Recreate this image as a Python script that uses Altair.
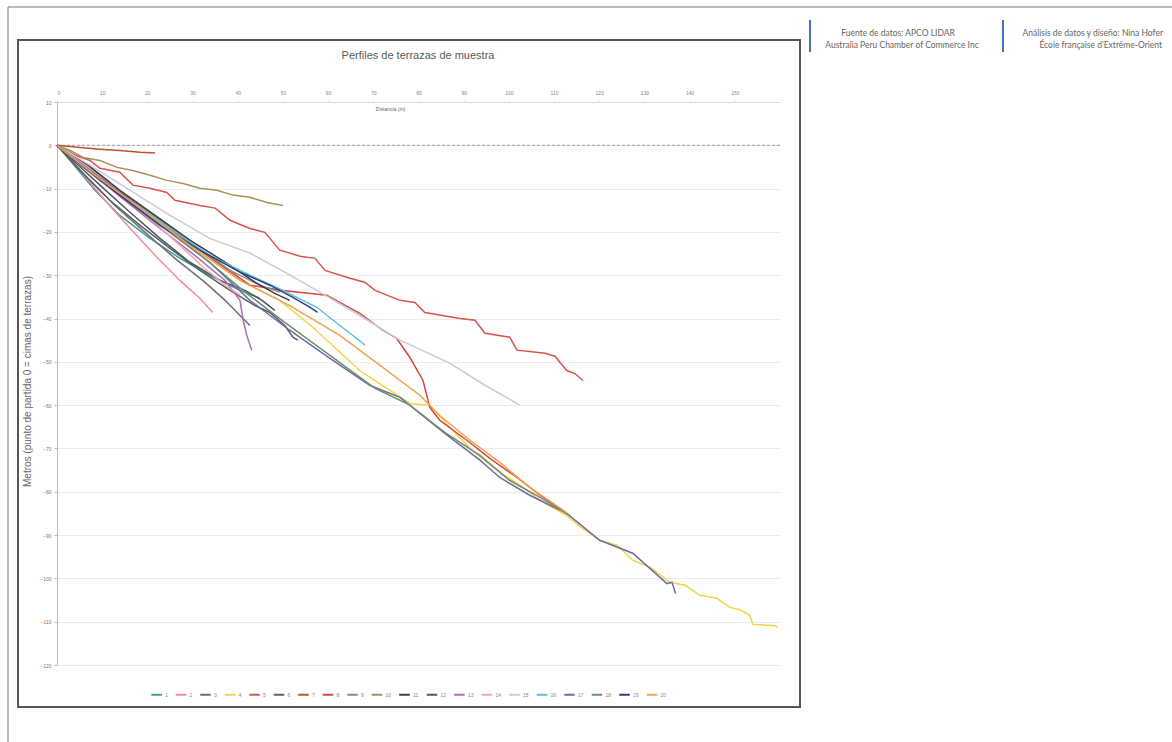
import altair as alt
import pandas as pd

# ---------------- data ----------------
SERIES = [str(i) for i in range(1, 21)]
COLORS = ["#3fa08c", "#f08c9c", "#6e7080", "#f2d544", "#d9534f",
          "#5b5f5f", "#c0502a", "#d2483a", "#8a8a8a", "#a8905a",
          "#3c3c46", "#4a5668", "#b070b0", "#f4a6b6", "#c9cbd6",
          "#5bc0d8", "#6c6ca8", "#6f8f6f", "#2e3d80", "#f0a050"]

s01_x = [0, 2.9, 8.4, 13.9, 20.6, 27.2, 33.8, 40.5, 44.9]
s01_y = [0, -3.5, -10.4, -16.2, -21.5, -26.1, -30.0, -33.5, -35.3]
s02_x = [0, 5.1, 10.6, 16.2, 21.7, 27.2, 31.6, 34.5]
s02_y = [0, -5.8, -12.7, -19.2, -25.4, -31.2, -35.3, -38.6]
s03_x = [0, 6.2, 12.8, 19.5, 26.1, 32.7, 37.2, 40.5, 42.7]
s03_y = [0, -6.9, -13.9, -20.1, -26.1, -31.6, -35.8, -39.3, -41.6]
s04_x = [0, 8.4, 18.4, 29.4, 40.5, 49.3, 56.6, 67.0, 78.1, 82.5, 86.9, 92.0, 98.0,
         102.5, 106.9, 112.8, 116.0, 120.1, 124.0, 127.4, 131.5, 135.6, 139.0,
         142.3, 146.0, 148.9, 151.0, 153.3, 154.0, 158.4, 159.5]
s04_y = [0, -6.2, -13.9, -22.4, -31.2, -35.8, -42.0, -52.0, -59.6, -60.0, -65.1,
         -70.6, -75.5, -78.5, -82.0, -85.5, -88.2, -91.2, -92.4, -95.8, -97.6,
         -100.9, -101.6, -103.9, -104.6, -106.7, -107.2, -108.5, -110.6, -110.9, -111.3]
s05_x = [0, 4.0, 7.3, 9.5, 13.9, 16.8, 20.6, 24.3, 26.1, 31.6, 35.0, 38.3, 42.7,
         46.0, 49.3, 53.8, 57.1, 59.3, 64.8, 68.1, 70.4, 75.9, 79.2, 81.4, 89.2,
         92.5, 94.7, 100.2, 101.8, 108.0, 110.2, 112.8, 114.6, 116.4]
s05_y = [0, -2.3, -3.5, -5.3, -6.2, -9.2, -9.9, -10.9, -12.7, -13.9, -14.5, -17.3,
         -19.2, -20.1, -24.2, -25.6, -26.1, -28.9, -30.7, -31.6, -33.5, -35.8, -36.3,
         -38.6, -40.0, -40.4, -43.4, -44.3, -47.3, -48.0, -48.7, -52.0, -52.7, -54.3]
s06_x = [0, 5.1, 11.7, 18.4, 25.0, 31.6, 38.3, 43.8, 47.1, 50.4, 52.2, 53.3]
s06_y = [0, -5.8, -12.7, -18.5, -23.8, -28.9, -33.5, -37.0, -38.6, -41.6, -44.3, -45.0]
s07_x = [0, 5.1, 9.5, 13.9, 18.4, 21.7]
s07_y = [0, -0.5, -0.9, -1.2, -1.6, -1.8]
s08_x = [0, 9.5, 20.6, 31.6, 42.7, 50.0, 59.7, 67.0, 72.1, 75.2, 78.1, 81.0, 82.5,
         84.7, 90.7, 95.8, 101.8, 106.9, 112.8]
s08_y = [0, -8.1, -16.2, -24.2, -32.3, -33.5, -34.6, -38.8, -42.7, -44.6, -49.0,
         -54.3, -60.5, -63.5, -68.1, -72.3, -76.7, -80.8, -85.0]
s09_x = [0, 7.3, 15.0, 22.8, 30.5, 38.3, 44.9, 49.3]
s09_y = [0, -5.3, -11.5, -17.3, -23.1, -28.9, -32.3, -33.9]
s10_x = [0, 2.9, 5.8, 9.5, 13.3, 16.8, 20.6, 24.3, 27.9, 31.6, 35.4, 38.9, 42.7, 46.5, 50.0]
s10_y = [0, -1.2, -2.8, -3.5, -5.1, -5.8, -6.9, -8.1, -8.8, -9.9, -10.4, -11.5, -12.0, -13.2, -13.9]
s11_x = [0, 6.9, 13.9, 21.7, 29.4, 37.2, 43.8, 48.2, 51.5]
s11_y = [0, -4.6, -10.4, -16.2, -21.9, -27.0, -31.6, -34.2, -35.8]
s12_x = [0, 4.0, 9.5, 16.2, 22.8, 29.4, 36.1, 41.6, 45.4, 48.2]
s12_y = [0, -3.9, -9.2, -15.5, -21.5, -27.0, -31.2, -33.5, -35.8, -38.1]
s13_x = [0, 7.3, 15.0, 22.8, 30.5, 37.2, 40.5, 41.2, 42.0, 43.1]
s13_y = [0, -6.2, -12.7, -19.2, -25.4, -31.2, -35.8, -40.4, -43.9, -47.3]
s14_x = [0, 6.2, 13.9, 20.6, 27.2, 32.6, 37.2, 40.5]
s14_y = [0, -4.6, -10.9, -16.9, -23.1, -28.4, -32.3, -34.6]
s15_x = [0, 7.3, 16.2, 25.0, 33.8, 42.7, 50.4, 57.5, 67.0, 75.9, 86.9, 94.7, 101.8, 102.4]
s15_y = [0, -4.6, -10.4, -16.2, -21.5, -24.9, -29.3, -33.5, -39.3, -45.0, -50.3, -55.4, -59.6, -60.0]
s16_x = [0, 7.3, 16.2, 25.0, 33.8, 42.7, 50.0, 57.5, 62.6, 67.7, 68.1]
s16_y = [0, -5.8, -12.7, -19.2, -25.4, -30.0, -33.5, -37.4, -41.6, -45.7, -46.2]
s17_x = [0, 7.3, 16.2, 25.0, 33.8, 42.7, 51.5, 60.4, 69.2, 75.9, 84.1, 86.9, 93.6,
         98.0, 104.6, 112.8, 120.1, 127.4, 131.2, 135.0, 136.1, 136.9]
s17_y = [0, -5.8, -12.7, -20.1, -27.0, -35.8, -42.7, -49.2, -55.4, -58.2, -65.1,
         -67.4, -72.7, -76.7, -80.8, -85.0, -91.2, -94.2, -97.7, -101.2, -100.9, -103.5]
s18_x = [0, 6.2, 15.0, 23.9, 32.7, 41.6, 50.4, 60.4, 70.4, 78.1, 85.8, 93.6, 100.2, 106.9, 113.5]
s18_y = [0, -5.3, -12.2, -19.2, -26.1, -33.9, -40.9, -48.5, -56.1, -60.0, -66.3,
         -71.6, -77.4, -81.3, -85.5]
s19_x = [0, 6.2, 13.9, 22.8, 31.6, 40.5, 47.1, 52.2, 56.0, 57.7]
s19_y = [0, -5.3, -11.5, -18.5, -24.2, -29.3, -32.3, -35.1, -37.4, -38.6]
s20_x = [0, 8.4, 18.4, 29.4, 40.5, 51.5, 62.6, 71.5, 80.3, 84.7, 91.4, 98.0, 104.6, 112.8]
s20_y = [0, -6.9, -14.5, -23.1, -31.2, -37.0, -43.9, -50.8, -57.7, -62.4, -68.1,
         -73.2, -79.0, -84.8]

X_TICKS = list(range(0, 151, 10))
Y_TICKS = list(range(-120, 11, 10))

TITLE = "Perfiles de terrazas de muestra"
X_TITLE = "Distancia (m)"
Y_TITLE = "Metros (punto de partida 0 = cimas de terrazas)"
SRC1 = "Fuente de datos:  APCO LIDAR"
SRC2 = "Australia Peru Chamber of Commerce Inc"
AUT1 = "Análisis de datos y diseño: Nina Hofer"
AUT2 = "École française d'Extrême-Orient"

# ---------------- build table ----------------
xs = [s01_x, s02_x, s03_x, s04_x, s05_x, s06_x, s07_x, s08_x, s09_x, s10_x,
      s11_x, s12_x, s13_x, s14_x, s15_x, s16_x, s17_x, s18_x, s19_x, s20_x]
ys = [s01_y, s02_y, s03_y, s04_y, s05_y, s06_y, s07_y, s08_y, s09_y, s10_y,
      s11_y, s12_y, s13_y, s14_y, s15_y, s16_y, s17_y, s18_y, s19_y, s20_y]
rows = []
for name, xv, yv in zip(SERIES, xs, ys):
    for i, (a, b) in enumerate(zip(xv, yv)):
        rows.append({"serie": name, "x": a, "y": b, "i": i})
df = pd.DataFrame(rows)

W, H = 723, 563
one = alt.Data(values=[{}])

lines = alt.Chart(df).mark_line(strokeWidth=1.5).encode(
    x=alt.X("x:Q", scale=alt.Scale(domain=[0, 160], nice=False, zero=False),
            axis=alt.Axis(orient="top", values=X_TICKS, title=X_TITLE, grid=False,
                          labelFontSize=5, labelColor="#888888", labelPadding=5,
                          domainColor="#dcdcdc", tickColor="#dcdcdc", tickSize=2,
                          titleFontSize=5, titleFontWeight="normal", titleColor="#666666",
                          titleX=333, titleY=6, titleBaseline="middle")),
    y=alt.Y("y:Q", scale=alt.Scale(domain=[-120, 10], nice=False, zero=False),
            axis=alt.Axis(values=Y_TICKS, grid=True, gridColor="#ececec",
                          labelFontSize=5, labelColor="#777777", labelPadding=3,
                          domainColor="#bbbbbb", tickColor="#bbbbbb", tickSize=3,
                          title=Y_TITLE, titleFontSize=10, titleFontWeight="normal",
                          titleColor="#666666", titleX=-25, titleY=279, titleAngle=270)),
    color=alt.Color("serie:N", title=None,
                    scale=alt.Scale(domain=SERIES, range=COLORS),
                    legend=alt.Legend(orient="none", legendX=93, legendY=586,
                                      direction="horizontal", columns=20,
                                      symbolType="stroke", symbolSize=110,
                                      symbolStrokeWidth=2, labelFontSize=5,
                                      labelColor="#888888", columnPadding=3.5,
                                      labelOffset=2)),
    order="i:Q",
)

zero_line = alt.Chart(alt.Data(values=[{"v": 0}])).mark_rule(
    color="#9a9a9a", strokeDash=[3, 2], strokeWidth=1).encode(y="v:Q")

box = alt.Chart(one).mark_rect(filled=False, stroke="#555555", strokeWidth=2).encode(
    x=alt.value(-39), x2=alt.value(743), y=alt.value(-62), y2=alt.value(605))

outer_top = alt.Chart(one).mark_rule(color="#777777", strokeWidth=1).encode(
    x=alt.value(-49), x2=alt.value(1120), y=alt.value(-95))
outer_left = alt.Chart(one).mark_rule(color="#777777", strokeWidth=1).encode(
    x=alt.value(-49), y=alt.value(-95), y2=alt.value(650))

bar1 = alt.Chart(one).mark_rule(color="#4472c4", strokeWidth=2).encode(
    x=alt.value(753), y=alt.value(-82), y2=alt.value(-50))
bar2 = alt.Chart(one).mark_rule(color="#4472c4", strokeWidth=2).encode(
    x=alt.value(946), y=alt.value(-82), y2=alt.value(-50))

def txt(s, x, y, size, align="center", font="Liberation Sans", color="#555555"):
    return alt.Chart(one).mark_text(text=s, align=align, baseline="middle",
                                    fontSize=size, font=font, color=color).encode(
        x=alt.value(x), y=alt.value(y))

title = txt(TITLE, 361, -46, 11, color="#5a5a5a")
src1 = txt(SRC1, 841, -69, 8.5, font="Lato", color="#666666")
src2 = txt(SRC2, 845, -57, 8.5, font="Lato", color="#666666")
aut1 = txt(AUT1, 1106, -69, 8.5, align="right", font="Lato", color="#666666")
aut2 = txt(AUT2, 1105, -57, 8.5, align="right", font="Lato", color="#666666")

chart = alt.layer(
    outer_top, outer_left, box, zero_line, lines,
    title, src1, src2, aut1, aut2, bar1, bar2
).properties(
    width=W, height=H,
    autosize=alt.AutoSizeParams(type="none"),
    padding={"left": 57, "top": 102, "right": 392, "bottom": 77},
    background="white",
).configure_view(strokeWidth=0).configure_axis(labelFont="Liberation Sans",
                                               titleFont="Liberation Sans"
).configure_legend(labelFont="Liberation Sans")

chart.save("out.html", embed_options={"renderer": "svg", "actions": False})
